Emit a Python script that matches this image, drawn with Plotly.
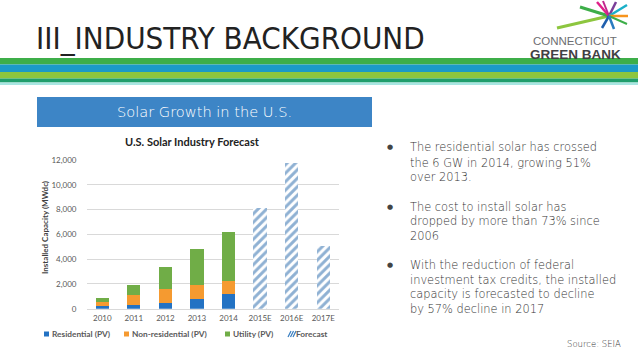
import plotly.graph_objects as go

W, H = 638, 359

years = ["2010", "2011", "2012", "2013", "2014", "2015E", "2016E", "2017E"]
actual_years = ["2010", "2011", "2012", "2013", "2014"]
residential = [230, 300, 490, 800, 1200]
non_residential = [350, 830, 1070, 1110, 1040]
utility = [300, 760, 1830, 2870, 3960]
forecast_years = ["2015E", "2016E", "2017E"]
forecast = [8100, 11790, 5060]
y_ticks = [0, 2000, 4000, 6000, 8000, 10000, 12000]
y_tick_labels = ["0", "2,000", "4,000", "6,000", "8,000", "10,000", "12,000"]
legend_labels = ["Residential (PV)", "Non-residential (PV)", "Utility (PV)", "Forecast"]

bullets = [
    ["The residential solar has crossed", "the 6 GW in 2014, growing 51%", "over 2013."],
    ["The cost to install solar has", "dropped by more than 73% since", "2006"],
    ["With the reduction of federal", "investment tax credits, the installed",
     "capacity is forecasted to decline", "by 57% decline in 2017"],
]


def px(x):
    return x / W


def py(y):
    return 1 - y / H


BLUE = "#2372C3"
ORANGE = "#F59A30"
GREEN = "#70AD47"
FC = "#1F64A8"
LIGHT = "DejaVu Sans, sans-serif"

fig = go.Figure()
fig.add_trace(go.Bar(x=actual_years, y=residential, name=legend_labels[0],
                     marker=dict(color=BLUE, line=dict(width=0))))
fig.add_trace(go.Bar(x=actual_years, y=non_residential, name=legend_labels[1],
                     marker=dict(color=ORANGE, line=dict(width=0))))
fig.add_trace(go.Bar(x=actual_years, y=utility, name=legend_labels[2],
                     marker=dict(color=GREEN, line=dict(width=0))))
fig.add_trace(go.Bar(x=forecast_years, y=forecast, name=legend_labels[3],
                     marker=dict(color="white", line=dict(width=0),
                                 pattern=dict(shape="/", fgcolor=FC, bgcolor="white",
                                              size=6, solidity=0.5))))

fig.update_layout(
    width=W, height=H,
    margin=dict(l=0, r=0, t=0, b=0, pad=0, autoexpand=False),
    paper_bgcolor="white", plot_bgcolor="white",
    barmode="stack", bargap=0.58,
    font=dict(family="Lato, sans-serif", color="#595959"),
    xaxis=dict(domain=[px(86.5), px(339)], categoryorder="array", categoryarray=years,
               range=[-0.5, 7.5], showgrid=False, showline=True, linecolor="#D9D9D9",
               ticks="", ticklabelstandoff=2, tickfont=dict(size=8, color="#595959")),
    yaxis=dict(domain=[py(308.7), py(160)], range=[0, 12000], tickvals=y_ticks,
               ticktext=y_tick_labels, showgrid=True, gridcolor="#D9D9D9", zeroline=False,
               ticks="", ticklabelstandoff=9, tickfont=dict(size=8, color="#595959")),
    showlegend=False,
)

shapes = []
# header stripes
for y0, y1, c in [(58, 64.5, "#3DAE49"), (64.5, 72, "#1B9AC8"), (72, 78.5, "#8DC63F"),
                  (78.5, 82.5, "#1F9E6C"), (82.5, 85, "#A8E6E2")]:
    shapes.append(dict(type="rect", xref="paper", yref="paper", x0=0, x1=1,
                       y0=py(y1), y1=py(y0), fillcolor=c, line=dict(width=0), layer="below"))
# blue header box
shapes.append(dict(type="rect", xref="paper", yref="paper", x0=px(37), x1=px(372),
                   y0=py(127), y1=py(97), fillcolor="#3D85C6", line=dict(width=0), layer="below"))
# logo starburst
cx, cy = 609, 16
for (x0, y0, c, w) in [(557, 28, "#8DC63F", 3), (580, 7, "#3DAE49", 3), (597, 2, "#E0218A", 2.5),
                       (603, 1, "#C2268D", 2), (616, 2, "#7B3F98", 2.5), (627, 5, "#1BB0C8", 2.5),
                       (628, 16, "#F7941D", 2.5), (627, 24, "#3DAE49", 2), (602, 28, "#1F5FAD", 2.5),
                       (614, 29, "#2A7BC0", 2.5)]:
    shapes.append(dict(type="line", xref="paper", yref="paper", x0=px(x0), y0=py(y0),
                       x1=px(cx), y1=py(cy), line=dict(color=c, width=w)))

P = dict(xref="paper", yref="paper", showarrow=False, borderpad=0)
annotations = [
    dict(text="III_INDUSTRY BACKGROUND", x=px(35), y=py(38), xanchor="left", yanchor="middle",
         font=dict(family="DejaVu Sans Condensed, Liberation Sans Narrow, sans-serif",
                   size=31, color="#222222"), **P),
    dict(text="CONNECTICUT", x=px(575), y=py(41), xanchor="center", yanchor="middle",
         font=dict(family="Liberation Sans, sans-serif", size=11.5, color="#6D6E71"), **P),
    dict(text="<b>GREEN BANK</b>", x=px(575), y=py(54.5), xanchor="center", yanchor="middle",
         font=dict(family="Liberation Sans, sans-serif", size=13.5, color="#414042"), **P),
    dict(text="Solar Growth in the U.S.", x=px(204), y=py(112), xanchor="center", yanchor="middle",
         font=dict(family=LIGHT, size=14.6, color="white", weight=300), **P),
    dict(text="<b>U.S. Solar Industry Forecast</b>", x=px(192), y=py(141), xanchor="center",
         yanchor="middle", font=dict(family="Lato, sans-serif", size=11, color="#222222"), **P),
    dict(text="<b>Installed Capacity (MWdc)</b>", x=px(45), y=py(227), xanchor="center",
         yanchor="middle", textangle=-90,
         font=dict(family="Lato, sans-serif", size=8, color="#404040"), **P),
    dict(text="Source: SEIA", x=px(622), y=py(344), xanchor="right", yanchor="middle",
         font=dict(family=LIGHT, size=8.5, color="#333333", weight=300), **P),
]

# bullets: one annotation per line
line_ys = [[147, 162.5, 177], [206.5, 221, 236], [265, 279.5, 294, 309]]
for lines, ys in zip(bullets, line_ys):
    annotations.append(dict(text="●", x=px(389.5), y=py(ys[0]), xanchor="center", yanchor="middle",
                            font=dict(family="DejaVu Sans", size=7, color="#444444"), **P))
    for t, yy in zip(lines, ys):
        annotations.append(dict(text=t, x=px(409), y=py(yy), xanchor="left", yanchor="middle",
                                font=dict(family=LIGHT, size=11.4, color="#333333", weight=300), **P))

# manual legend (matches the original's tight layout)
leg_y = 334
leg_items = [(44, BLUE), (124, ORANGE), (225, GREEN), (288, None)]
for (lx, col), lab in zip(leg_items, legend_labels):
    if col is not None:
        shapes.append(dict(type="rect", xref="paper", yref="paper", x0=px(lx), x1=px(lx + 5),
                           y0=py(leg_y + 2.5), y1=py(leg_y - 2.5), fillcolor=col, line=dict(width=0)))
    else:
        for k in range(3):
            shapes.append(dict(type="line", xref="paper", yref="paper",
                               x0=px(lx + k * 2.5), y0=py(leg_y + 3), x1=px(lx + k * 2.5 + 3),
                               y1=py(leg_y - 3), line=dict(color="#3A7FC2", width=1.2)))
    annotations.append(dict(text="<b>" + lab + "</b>", x=px(lx + 6.5), y=py(leg_y), xanchor="left",
                            yanchor="middle",
                            font=dict(family="Lato, sans-serif", size=8.3, color="#595959"), **P))

fig.update_layout(shapes=shapes, annotations=annotations)
fig.write_html("out.html", config={"displayModeBar": False},
               post_script="document.body.style.margin='0';")
